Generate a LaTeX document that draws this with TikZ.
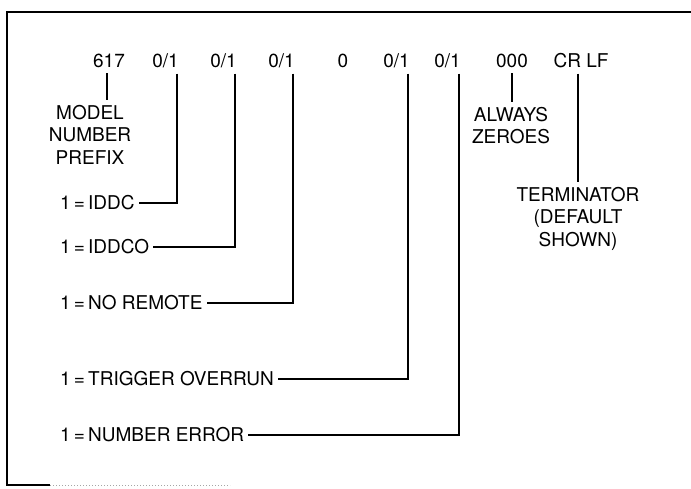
\documentclass[tikz,border=0pt]{standalone}
\usepackage{fontspec}
\setmainfont{TeX Gyre Heros}
\usetikzlibrary{positioning}

\begin{document}
\begin{tikzpicture}[x=1pt, y=-1pt,
  font=\fontsize{19}{22.5}\selectfont,
  lead/.style={line width=1.5pt},
  bit/.style={anchor=base east, inner xsep=0pt, inner ysep=6pt},
  code/.style={anchor=base, inner xsep=0pt, inner ysep=6pt},
  note/.style={anchor=north, align=center, inner xsep=0pt, inner ysep=5pt},
  flag/.style={anchor=west, inner xsep=4pt}]
  \useasboundingbox (0,0) rectangle (691,488);
  % frame
  \draw[lead] (691,12) -- (7,12) -- (7,485) -- (50,485);
  \draw[black!35, dotted, line width=1pt] (50,485) -- (230,485);
  % status word
  \node[code] (n617) at (109,67) {617};
  \node[bit] (b1) at (179,67) {0/1};
  \node[bit] (b2) at (237,67) {0/1};
  \node[bit] (b3) at (295,67) {0/1};
  \node[code] (zero) at (343,67) {0};
  \node[bit] (b5) at (410,67) {0/1};
  \node[bit] (b6) at (461,67) {0/1};
  \node[code] (zz) at (512,67) {000};
  \node[code] (crlf) at (581,67) {CR LF};
  % notes under the word
  \node[note] (model) at (90,100) {MODEL\\NUMBER\\PREFIX};
  \node[note] (always) at (511,102) {ALWAYS\\ZEROES};
  \node[note] (term) at (578,182) {TERMINATOR\\(DEFAULT\\SHOWN)};
  \draw[lead] ([xshift=-2pt]n617.south) -- ([xshift=-2pt]n617.south |- model.north);
  \draw[lead] (zz.south) -- (zz.south |- always.north);
  \draw[lead] (term.north |- crlf.south) -- (term.north);
  % flag bits
  \node[flag] (iddc) at (56,203) {1\,=\,IDDC};
  \node[flag] (iddco) at (56,247) {1\,=\,IDDCO};
  \node[flag] (norem) at (56,303) {1\,=\,NO REMOTE};
  \node[flag] (trig) at (56,379) {1\,=\,TRIGGER OVERRUN};
  \node[flag] (numerr) at (56,435) {1\,=\,NUMBER ERROR};
  \draw[lead] ([xshift=-2pt]b1.south east) |- (iddc.east);
  \draw[lead] ([xshift=-2pt]b2.south east) |- (iddco.east);
  \draw[lead] ([xshift=-2pt]b3.south east) |- (norem.east);
  \draw[lead] ([xshift=-2pt]b5.south east) |- (trig.east);
  \draw[lead] ([xshift=-2pt]b6.south east) |- (numerr.east);
\end{tikzpicture}
\end{document}
